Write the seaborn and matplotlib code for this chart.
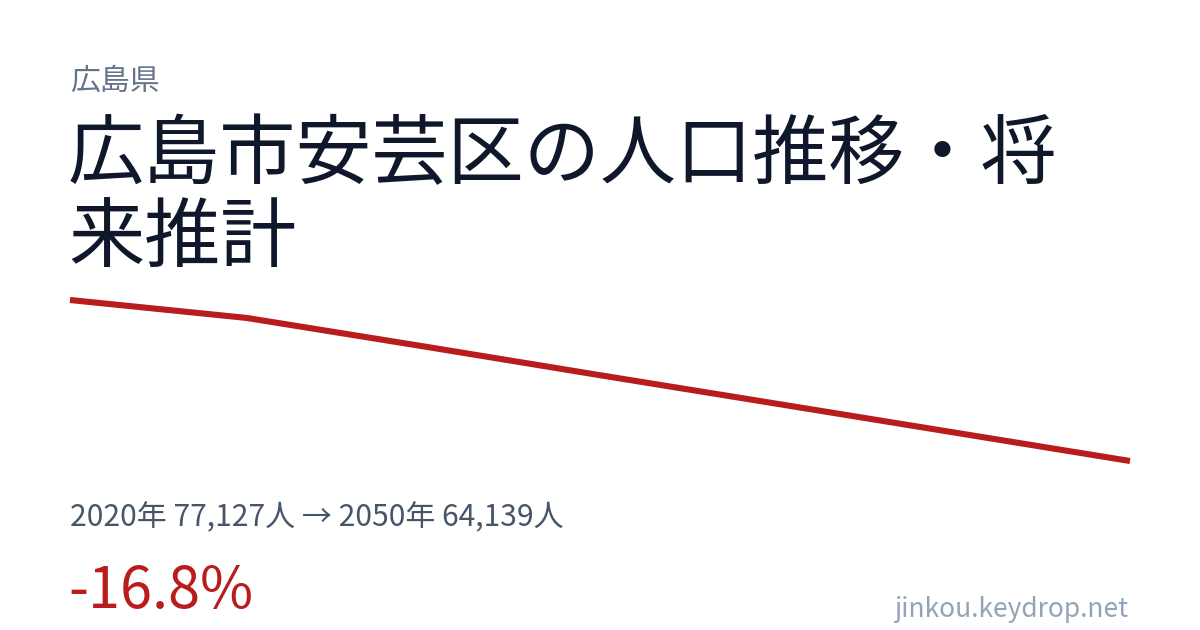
import matplotlib
matplotlib.use('Agg')
import matplotlib.pyplot as plt
import seaborn as sns
import pandas as pd

# データ (2020年〜2050年, 5年刻み)
years = [2020, 2025, 2030, 2035, 2040, 2045, 2050]
population = [77127, 75680, 73390, 71060, 68760, 66450, 64139]

pref_name = '広島県'
title_lines = ['広島市安芸区の人口推移・将', '来推計']
summary = '2020年 77,127人 → 2050年 64,139人'
change = '-16.8%'
site = 'jinkou.keydrop.net'

sns.set_theme(style='white')
plt.rcParams['font.family'] = ['Noto Sans CJK JP', 'DejaVu Sans']

W, H = 1200, 630
fig = plt.figure(figsize=(12, 6.3), dpi=100)
fig.patch.set_facecolor('white')

def px(x, y):
    return x / W, 1 - y / H

# 折れ線
ax = fig.add_axes([70 / W, 1 - 461 / H, 1060 / W, 161 / H])
df = pd.DataFrame({'year': years, 'pop': population})
sns.lineplot(data=df, x='year', y='pop', ax=ax, color='#b91c1c', linewidth=4.4,
             clip_on=False, solid_capstyle='butt', solid_joinstyle='miter')
ax.set_xlim(min(years), max(years))
ax.set_ylim(min(population), max(population))
ax.axis('off')

# テキスト
fig.text(*px(70, 90), pref_name, fontsize=21.5, color='#64748b', va='baseline', ha='left')
fig.text(*px(68, 178), title_lines[0], fontsize=54.8, color='#0f172a', va='baseline', ha='left')
fig.text(*px(68, 262), title_lines[1], fontsize=54.8, color='#0f172a', va='baseline', ha='left')
fig.text(*px(70, 526), summary, fontsize=21.6, color='#475569', va='baseline', ha='left')
fig.text(*px(68, 608), change, fontsize=41.5, color='#b91c1c', va='baseline', ha='left')
fig.text(*px(1128, 617), site, fontsize=19, color='#94a3b8', va='baseline', ha='right')

fig.savefig('out.png', dpi=100, facecolor='white')
